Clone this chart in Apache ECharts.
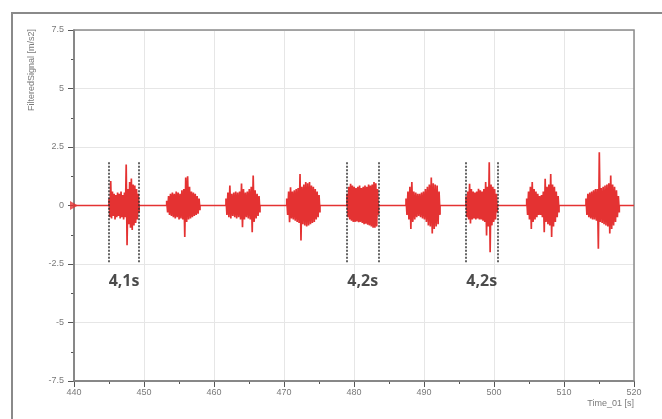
<!DOCTYPE html>
<html>
<head>
<meta charset="utf-8">
<script src="https://cdn.jsdelivr.net/npm/echarts@6/dist/echarts.min.js"></script>
<style>html,body{margin:0;padding:0;background:#fff}#c{width:662px;height:419px}</style>
</head>
<body>
<div id="c"></div>
<script>
// ---- data ----
const xTicks = [440, 450, 460, 470, 480, 490, 500, 510, 520];
const yTicks = [-7.5, -5, -2.5, 0, 2.5, 5, 7.5];
const burstStart = [445.0, 453.24, 461.71, 470.39, 479.0, 487.43, 496.0, 504.67, 513.14];
const burstEnd   = [449.3, 458.0, 466.57, 475.14, 483.5, 492.29, 500.47, 509.29, 517.9];
const burst1 = [0.3,-0.5,1.05,-0.55,0.6,-0.45,0.5,-0.6,0.45,-0.5,0.55,-0.45,0.5,-0.55,0.6,-0.5,0.45,-0.6,0.55,-0.5,1.75,-1.7,0.7,-0.8,1.0,-0.95,1.15,-1.05,0.9,-0.85,0.85,-0.75,0.7,-0.6,0.5,-0.3];
const burst2 = [0.2,-0.3,0.4,-0.4,0.5,-0.45,0.55,-0.5,0.5,-0.55,0.6,-0.5,0.55,-0.6,0.5,-0.55,0.65,-0.6,0.7,-1.35,1.2,-0.7,1.25,-0.6,0.8,-0.55,0.6,-0.5,0.55,-0.45,0.5,-0.4,0.4,-0.35,0.3,-0.2];
const burst3 = [0.3,-0.4,0.55,-0.5,0.85,-0.55,0.5,-0.45,0.55,-0.5,0.6,-0.55,0.55,-0.5,0.6,-0.6,0.94,-0.93,0.7,-0.6,0.55,-0.5,0.6,-0.55,0.7,-0.6,0.8,-1.14,1.28,-0.7,0.65,-0.55,0.5,-0.45,0.4,-0.3];
const burst4 = [0.3,-0.4,0.6,-0.71,0.78,-0.55,0.6,-0.6,0.65,-0.65,0.7,-0.7,0.75,-0.75,1.35,-1.5,0.8,-0.8,0.9,-0.85,1.0,-0.9,0.95,-0.85,1.0,-0.8,0.85,-0.75,0.8,-0.7,0.7,-0.6,0.6,-0.5,0.45,-0.3];
const burst5 = [0.5,-0.5,0.8,-0.6,0.93,-0.65,0.85,-0.7,0.8,-0.7,0.75,-0.68,0.8,-0.72,0.85,-0.7,0.75,-0.75,0.8,-0.8,0.85,-0.78,0.8,-0.82,0.9,-0.85,0.85,-0.9,0.9,-0.95,1.0,-0.95,0.95,-0.9,0.7,-0.4];
const burst6 = [0.3,-0.4,0.6,-0.6,0.8,-1.0,1.0,-0.7,0.6,-0.6,0.55,-0.5,0.5,-0.45,0.5,-0.5,0.55,-0.55,0.6,-0.6,0.7,-0.7,0.8,-0.85,0.9,-0.9,1.2,-1.2,0.95,-1.0,0.9,-0.9,0.85,-0.8,0.6,-0.4];
const burst7 = [0.4,-0.5,0.6,-0.6,0.93,-0.77,0.7,-0.6,0.6,-0.55,0.55,-0.6,0.6,-0.55,0.72,-0.6,0.65,-0.6,0.6,-0.65,0.7,-0.7,1.0,-1.28,0.8,-0.9,1.85,-2.0,0.9,-0.85,0.8,-0.7,0.7,-0.6,0.5,-0.3];
const burst8 = [0.3,-0.4,0.6,-0.6,0.8,-1.0,1.0,-0.7,0.7,-0.6,0.6,-0.5,0.5,-0.4,0.4,-0.4,0.45,-0.5,0.6,-1.14,1.14,-0.7,0.8,-0.8,0.9,-0.85,1.35,-1.35,0.9,-0.9,0.8,-0.7,0.6,-0.5,0.4,-0.3];
const burst9 = [0.3,-0.4,0.5,-0.5,0.55,-0.55,0.6,-0.6,0.65,-0.6,0.7,-0.65,0.7,-1.85,2.28,-0.7,0.75,-0.75,0.8,-0.8,0.85,-0.85,0.9,-0.9,0.95,-1.2,1.28,-1.0,0.9,-0.85,0.8,-0.7,0.65,-0.5,0.4,-0.3];
const bursts = [burst1, burst2, burst3, burst4, burst5, burst6, burst7, burst8, burst9];
const startMarker = [440, 0];
const markerPairs = [[445.0, 449.3], [479.0, 483.5], [496.0, 500.5]];
const markerLabels = ['4,1s', '4,2s', '4,2s'];
const markerTop = 1.85, markerBottom = -2.42, labelY = -3.25;

// ---- build signal ----
const signal = [[440, 0]];
bursts.forEach((vals, k) => {
  const s = burstStart[k], e = burstEnd[k], n = vals.length;
  signal.push([s, 0]);
  vals.forEach((v, i) => signal.push([s + (e - s) * i / (n - 1), v]));
  signal.push([e, 0]);
});
signal.push([520, 0]);

const lineData = [];
markerPairs.forEach(p => p.forEach(t => lineData.push([{coord: [t, markerTop]}, {coord: [t, markerBottom]}])));
const labelData = markerPairs.map((p, i) => ({value: [(p[0] + p[1]) / 2, labelY], name: markerLabels[i]}));

const gray = '#7a7a7a';
const red = '#e43232';
const chart = echarts.init(document.getElementById('c'), null, {renderer: 'canvas'});
chart.setOption({
  animation: false,
  backgroundColor: '#fff',
  grid: {left: 74, right: 28, top: 30, bottom: 38, show: true, borderColor: '#8c8c8c', borderWidth: 1.5, backgroundColor: 'transparent', z: 3},
  xAxis: {
    type: 'value', min: xTicks[0], max: xTicks[xTicks.length - 1], interval: 10,
    axisLine: {show: true, onZero: false, lineStyle: {color: '#555', width: 1.5}},
    axisTick: {show: true, length: 6, lineStyle: {color: '#555'}},
    minorTick: {show: true, splitNumber: 2, length: 3, lineStyle: {color: '#555'}},
    axisLabel: {color: gray, fontSize: 9, fontFamily: 'Liberation Sans', margin: 7},
    splitLine: {show: true, lineStyle: {color: '#e6e6e6', width: 1}}
  },
  yAxis: {
    type: 'value', min: yTicks[0], max: yTicks[yTicks.length - 1], interval: 2.5,
    axisLine: {show: true, onZero: false, lineStyle: {color: '#555', width: 1.5}},
    axisTick: {show: true, length: 6, lineStyle: {color: '#555'}},
    minorTick: {show: true, splitNumber: 2, length: 3, lineStyle: {color: '#555'}},
    axisLabel: {color: gray, fontSize: 9, fontFamily: 'Liberation Sans', margin: 10},
    splitLine: {show: true, lineStyle: {color: '#e6e6e6', width: 1}}
  },
  graphic: [
    {type: 'rect', shape: {x: 12, y: 13, width: 700, height: 500}, style: {fill: 'none', stroke: '#8a8a8a', lineWidth: 2}, silent: true},
    {type: 'text', x: 32, y: 70, rotation: Math.PI / 2, style: {text: 'FilteredSignal [m/s2]', fill: gray, font: '9px "Liberation Sans"', textAlign: 'center', textVerticalAlign: 'middle'}},
    {type: 'text', x: 634, y: 404, style: {text: 'Time_01 [s]', fill: gray, font: '9px "Liberation Sans"', textAlign: 'right', textVerticalAlign: 'middle'}}
  ],
  series: [
    {
      type: 'line', data: signal, symbol: 'none', showSymbol: false, sampling: null, z: 10,
      lineStyle: {color: red, width: 1.7}, itemStyle: {color: red}
    },
    {
      type: 'scatter', data: [startMarker], symbol: 'triangle', symbolRotate: -90, symbolSize: [9, 8], clip: false, z: 11,
      itemStyle: {color: red}
    },
    {
      type: 'scatter', data: labelData, symbolSize: 0, z: 12,
      label: {show: true, position: 'inside', formatter: p => p.name, color: '#1e1e1e', fontSize: 16, fontWeight: 'bold', fontFamily: 'Open Sans'},
      markLine: {
        silent: true, symbol: ['none', 'none'], label: {show: false}, z: 13,
        lineStyle: {color: '#333', width: 1.5, type: [2, 1.5]},
        data: lineData
      }
    }
  ]
});
</script>
</body>
</html>
